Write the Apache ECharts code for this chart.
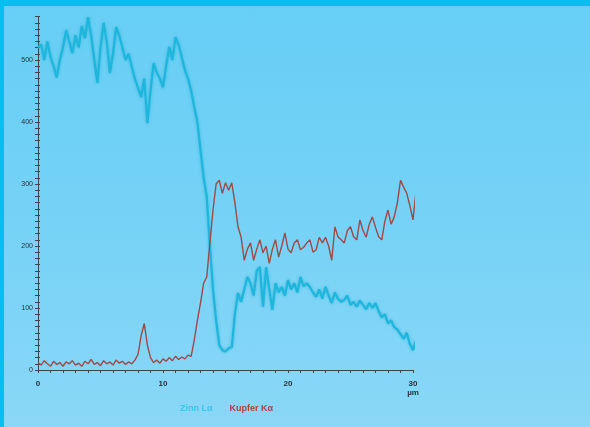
<!DOCTYPE html>
<html><head><meta charset="utf-8">
<script src="https://cdn.jsdelivr.net/npm/echarts@6/dist/echarts.min.js"></script>
<style>
html,body{margin:0;padding:0;}
#wrap{width:590px;height:427px;box-sizing:border-box;border-top:6px solid #06BEEF;border-left:4px solid #06BEEF;background:linear-gradient(180deg,#67CEF5 0%,#75D2F6 50%,#8AD7F7 100%);}
#c{width:586px;height:421px;}
</style></head>
<body><div id="wrap"><div id="c"></div></div>
<script>
const xStep = 0.25;
const cyanName = 'Zinn Lα';
const redName = 'Kupfer Kα';
const cyanValues = [520,525,500,530,505,490,472,500,520,548,530,511,540,520,555,535,569,540,500,463,520,560,530,479,510,553,540,520,500,510,489,470,455,440,470,398,450,495,480,470,456,490,521,500,537,525,505,484,470,450,424,400,355,310,279,200,130,80,40,32,30,35,37,90,124,110,130,150,140,120,160,166,102,166,130,97,140,125,134,120,145,130,140,125,150,135,140,134,125,118,130,115,134,120,108,125,115,110,113,120,105,110,102,112,105,98,108,100,108,95,85,90,75,80,69,65,58,50,60,42,32,48,45];
const redValues = [12,8,15,10,6,14,9,12,6,13,10,15,8,11,6,14,10,17,9,12,7,15,10,13,8,16,11,14,9,13,10,16,25,55,75,40,20,12,16,11,18,14,20,15,22,17,21,18,24,22,48,80,108,140,150,205,258,300,306,285,302,290,302,270,231,214,177,195,205,177,195,210,189,200,172,195,210,182,200,221,195,189,205,210,194,198,205,210,190,194,214,205,214,200,177,231,215,210,205,225,231,215,210,242,225,214,235,247,230,215,210,240,258,235,247,270,306,295,285,265,242,290,279];
const xTickLabels = [0,10,20,30];
const yTickLabels = [0,100,200,300,400,500];

const toPairs = vals => vals.map((v,i)=>[+(i*xStep).toFixed(2), v]);
const chart = echarts.init(document.getElementById('c'));
const axisCol = '#3a4650';
chart.setOption({
  animation:false,
  grid:{left:34,right:177,top:10.6,bottom:57},
  xAxis:{type:'value',min:0,max:30,interval:1,
    axisLine:{lineStyle:{color:axisCol,width:1}},
    axisTick:{length:3,lineStyle:{color:axisCol}},
    splitLine:{show:false},
    axisLabel:{color:'#2a3038',fontSize:8,fontWeight:'bold',margin:9,lineHeight:9,
      formatter:v=>xTickLabels.includes(v)?(v===30?'30\nµm':String(v)):''}},
  yAxis:[{type:'value',min:0,max:570,interval:10,
    axisLine:{show:true,lineStyle:{color:axisCol,width:1}},
    axisTick:{show:true,length:3,lineStyle:{color:axisCol}},
    splitLine:{show:false},
    axisLabel:{color:'#2a3038',fontSize:7,margin:5,
      formatter:v=>yTickLabels.includes(v)?String(v):''}},
   {type:'value',min:0,max:570,interval:10,position:'left',offset:0,
    axisLine:{show:false},
    axisTick:{show:true,inside:true,length:2,lineStyle:{color:axisCol}},
    splitLine:{show:false},axisLabel:{show:false}}],
  legend:{left:166,top:391,itemWidth:0,itemGap:12,icon:'none',
    textStyle:{fontSize:9,fontWeight:'bold'},
    data:[{name:cyanName,textStyle:{color:'#3CC6E6'}},{name:redName,textStyle:{color:'#B0403C'}}]},
  series:[
    {name:cyanName,type:'line',data:toPairs(cyanValues),showSymbol:false,clip:false,
      lineStyle:{color:'#1EB6DA',width:2.2,shadowColor:'rgba(20,170,210,0.6)',shadowBlur:3},itemStyle:{color:'#1EB6DA'}},
    {name:redName,type:'line',data:toPairs(redValues),showSymbol:false,clip:false,
      lineStyle:{color:'#9C4B48',width:1.4},itemStyle:{color:'#9C4B48'}}
  ]
});
</script></body></html>
